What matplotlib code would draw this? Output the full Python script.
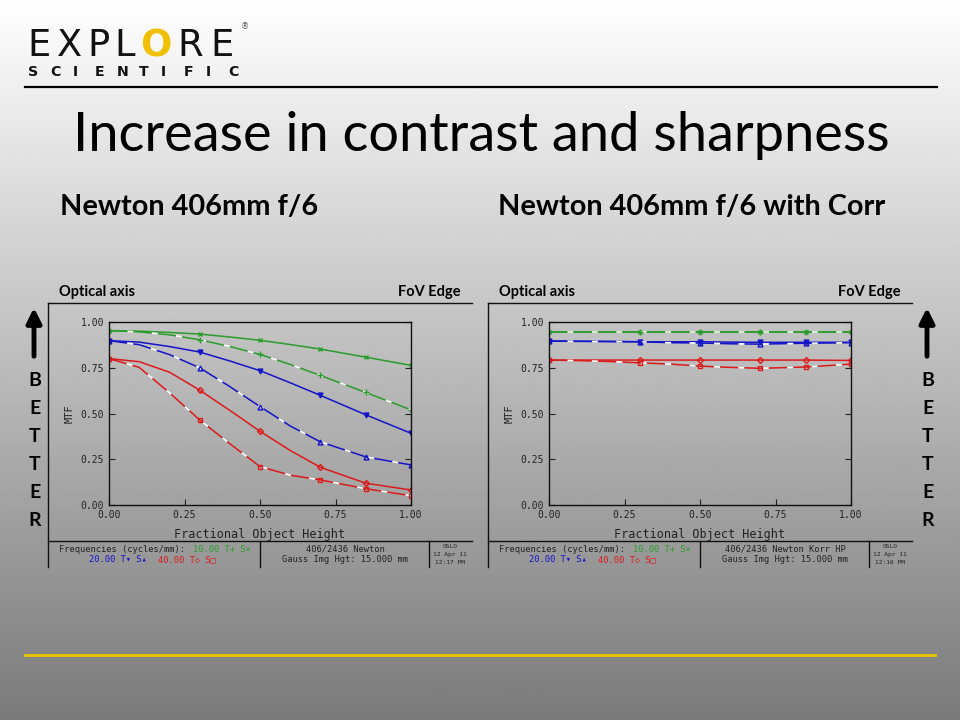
import numpy as np
import matplotlib
matplotlib.use("Agg")
import matplotlib.pyplot as plt

# field positions (fraction of object height) where the curves were read
field = [0.0, 0.1, 0.2, 0.3, 0.4, 0.5, 0.6, 0.7, 0.85, 1.0]
marker_idx = [0, 3, 5, 7, 8, 9]

# Newton 406mm f/6 (left)
newton_g_t = [0.953, 0.950, 0.943, 0.934, 0.918, 0.900, 0.877, 0.852, 0.808, 0.763]
newton_g_s = [0.953, 0.946, 0.930, 0.903, 0.866, 0.823, 0.768, 0.708, 0.615, 0.520]
newton_b_t = [0.898, 0.890, 0.866, 0.836, 0.787, 0.734, 0.668, 0.599, 0.493, 0.392]
newton_b_s = [0.898, 0.876, 0.822, 0.750, 0.647, 0.538, 0.432, 0.345, 0.263, 0.219]
newton_r_t = [0.800, 0.783, 0.726, 0.628, 0.517, 0.403, 0.298, 0.206, 0.119, 0.082]
newton_r_s = [0.800, 0.752, 0.614, 0.465, 0.335, 0.210, 0.163, 0.137, 0.089, 0.051]

# Newton 406mm f/6 with corrector (right)
corr_g_t = [0.948, 0.948, 0.948, 0.948, 0.948, 0.948, 0.948, 0.948, 0.948, 0.948]
corr_g_s = [0.948, 0.948, 0.948, 0.948, 0.948, 0.948, 0.948, 0.948, 0.948, 0.948]
corr_b_t = [0.896, 0.895, 0.894, 0.892, 0.892, 0.892, 0.890, 0.889, 0.889, 0.889]
corr_b_s = [0.896, 0.894, 0.893, 0.892, 0.887, 0.885, 0.881, 0.879, 0.884, 0.887]
corr_r_t = [0.792, 0.792, 0.792, 0.792, 0.792, 0.792, 0.792, 0.792, 0.792, 0.790]
corr_r_s = [0.792, 0.789, 0.784, 0.777, 0.770, 0.759, 0.752, 0.747, 0.754, 0.770]

ticks = [0.0, 0.25, 0.5, 0.75, 1.0]
tick_labels = ["0.00", "0.25", "0.50", "0.75", "1.00"]

GREEN = "#2a9c2a"
BLUE = "#1414c8"
RED = "#dc1a1a"
MONO = ["DejaVu Sans Mono"]
SANS = ["Lato", "DejaVu Sans"]

fig = plt.figure(figsize=(9.6, 7.2), dpi=100)

# slide background in pixel coordinates
bg = fig.add_axes([0, 0, 1, 1])
bg.set_xlim(0, 960)
bg.set_ylim(720, 0)
bg.axis("off")
grad = np.linspace(1.0, 0.48, 256).reshape(-1, 1)
bg.imshow(grad, cmap="gray", vmin=0, vmax=1, extent=[0, 960, 720, 0], aspect="auto")

# logo (letters placed one by one for the wide spacing)
logo_x = [27, 57, 87, 114, 140, 177, 210]
for ch, x in zip("EXPLORE", logo_x):
    col = "#f0c000" if ch == "O" and x == 140 else "#111111"
    bg.text(x, 46, ch, fontsize=26.5, family=["DejaVu Sans"], va="center", ha="left", color=col,
            fontweight="bold" if col != "#111111" else "normal")
bg.text(245, 27, "®", fontsize=6, va="center", ha="center", color="#555555")
for i, ch in enumerate("SCIENTIFIC"):
    bg.text(28 + i * 22.2, 72, ch, fontsize=10.2, family=["DejaVu Sans"], fontweight="bold", va="center",
            ha="left", color="#111111")
bg.plot([25, 937], [87, 87], color="black", lw=1.6)

# titles
bg.text(481, 136, "Increase in contrast and sharpness", fontsize=39, family=SANS,
        ha="center", va="center", color="black")
bg.text(60, 207, "Newton 406mm f/6", fontsize=20.8, family=SANS, fontweight="bold", va="center")
bg.text(498, 207, "Newton 406mm f/6 with Corr", fontsize=20.8, family=SANS, fontweight="bold", va="center")

# BETTER arrows
for ax_x in [34, 927]:
    bg.annotate("", xy=(ax_x, 305), xytext=(ax_x, 359),
                arrowprops=dict(arrowstyle="-|>", lw=3.5, color="black", mutation_scale=22))
    for i, ch in enumerate("BETTER"):
        bg.text(ax_x + 1, 381 + i * 28, ch, fontsize=14, family=SANS, fontweight="bold",
                ha="center", va="center")

# yellow footer line
bg.plot([25, 935], [655, 655], color="#e8c800", lw=2)

panels = [
    (0, (newton_g_t, newton_g_s, newton_b_t, newton_b_s, newton_r_t, newton_r_s),
     "406/2436 Newton", "12:17 PM"),
    (440, (corr_g_t, corr_g_s, corr_b_t, corr_b_s, corr_r_t, corr_r_s),
     "406/2436 Newton Korr HP", "12:16 PM"),
]

for off, curves, lens_name, clock in panels:
    # frame and header
    bg.text(59 + off, 292, "Optical axis", fontsize=10.5, family=SANS, fontweight="bold", va="center")
    bg.text(461 + off, 292, "FoV Edge", fontsize=10.5, family=SANS, fontweight="bold", va="center", ha="right")
    bg.plot([48 + off, 472 + off], [303, 303], color="#111111", lw=1)
    bg.plot([48 + off, 48 + off], [303, 567], color="#111111", lw=1)
    bg.plot([48 + off, 472 + off], [541, 541], color="#111111", lw=1)
    bg.plot([260 + off, 260 + off], [541, 567], color="#111111", lw=1)
    bg.plot([429 + off, 429 + off], [541, 567], color="#111111", lw=1)

    # footer texts
    bg.text(59 + off, 549, "Frequencies (cycles/mm):", fontsize=6.3, family=MONO, va="center", color="#222222")
    bg.text(193 + off, 549, "10.00 T+ S×", fontsize=6.3, family=MONO, va="center", color=GREEN)
    bg.text(89 + off, 560, "20.00 T▾ S▴", fontsize=6.3, family=MONO, va="center", color=BLUE)
    bg.text(158 + off, 560, "40.00 T◇ S□", fontsize=6.3, family=MONO, va="center", color=RED)
    bg.text(345 + off, 549, lens_name, fontsize=6.3, family=MONO, va="center", ha="center", color="#222222")
    bg.text(345 + off, 560, "Gauss Img Hgt: 15.000 mm", fontsize=6.3, family=MONO, va="center", ha="center",
            color="#222222")
    for j, s in enumerate(["OSLO", "12 Apr 11", clock]):
        bg.text(450 + off, 547 + j * 7.5, s, fontsize=4.5, family=MONO, va="center", ha="center", color="#222222")

    # the MTF plot itself
    ax = fig.add_axes([(109 + off) / 960, 1 - 505 / 720, 302 / 960, 183 / 720])
    ax.patch.set_alpha(0)
    g_t, g_s, b_t, b_s, r_t, r_s = curves
    dash = (0, (12, 4))
    ax.plot(field, g_t, color=GREEN, lw=1.1, marker="x", ms=3.5, markevery=marker_idx)
    ax.plot(field, g_s, color=GREEN, lw=1.1, ls=dash, gapcolor="white", marker="+", ms=4,
            markevery=marker_idx)
    ax.plot(field, b_t, color=BLUE, lw=1.1, marker="v", ms=3.5, markevery=marker_idx)
    ax.plot(field, b_s, color=BLUE, lw=1.1, ls=dash, gapcolor="white", marker="^", ms=3.5,
            mfc="none", markevery=marker_idx)
    ax.plot(field, r_t, color=RED, lw=1.1, marker="D", ms=3, mfc="none", markevery=marker_idx)
    ax.plot(field, r_s, color=RED, lw=1.1, ls=dash, gapcolor="white", marker="s", ms=3.5,
            mfc="none", markevery=marker_idx)
    ax.set_xlim(0, 1)
    ax.set_ylim(0, 1)
    ax.set_xticks(ticks, tick_labels)
    ax.set_yticks(ticks, tick_labels)
    ax.tick_params(direction="in", length=4, width=0.8, right=True, labelsize=7, colors="#222222")
    for lbl in ax.get_xticklabels() + ax.get_yticklabels():
        lbl.set_family(MONO)
    for sp in ax.spines.values():
        sp.set_color("#111111")
        sp.set_linewidth(1)
    ax.set_xlabel("Fractional Object Height", fontsize=8.5, family=MONO,
                  color="#222222", labelpad=6)
    ax.set_ylabel("MTF", fontsize=7.5, family=MONO, color="#222222", labelpad=4)

fig.savefig("out.png", dpi=100)
